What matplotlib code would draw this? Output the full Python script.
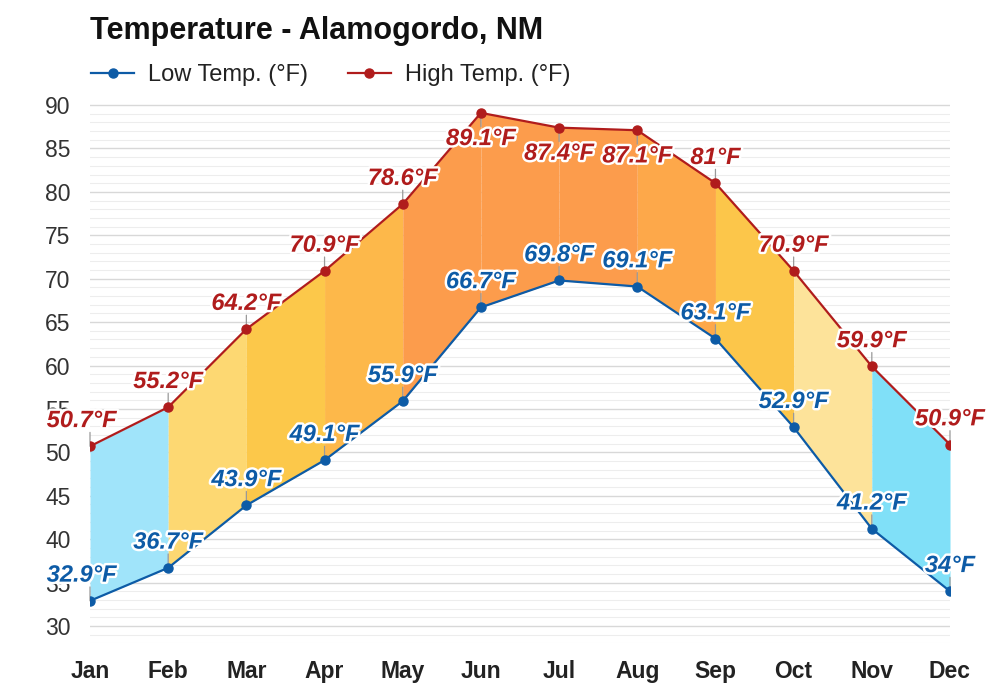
import matplotlib.pyplot as plt
import matplotlib.patheffects as pe
from matplotlib.lines import Line2D
import numpy as np

plt.rcParams['font.family'] = ['Liberation Sans', 'DejaVu Sans']

months = ['Jan', 'Feb', 'Mar', 'Apr', 'May', 'Jun', 'Jul', 'Aug', 'Sep', 'Oct', 'Nov', 'Dec']
low_temp = [32.9, 36.7, 43.9, 49.1, 55.9, 66.7, 69.8, 69.1, 63.1, 52.9, 41.2, 34.0]
high_temp = [50.7, 55.2, 64.2, 70.9, 78.6, 89.1, 87.4, 87.1, 81.0, 70.9, 59.9, 50.9]
low_labels = ['32.9°F', '36.7°F', '43.9°F', '49.1°F', '55.9°F', '66.7°F', '69.8°F', '69.1°F',
              '63.1°F', '52.9°F', '41.2°F', '34°F']
high_labels = ['50.7°F', '55.2°F', '64.2°F', '70.9°F', '78.6°F', '89.1°F', '87.4°F', '87.1°F',
               '81°F', '70.9°F', '59.9°F', '50.9°F']
# fill colour of each month-to-month band
band_colors = ['#a0e4fa', '#fdd872', '#fcc84a', '#fdb84a', '#fc9c4c', '#fc9c4c',
               '#fc9c4c', '#fda84a', '#fcc64a', '#fde39a', '#80e0f8']

low_color = '#0d5ba6'
high_color = '#b01c1c'

fig = plt.figure(figsize=(10, 7), dpi=100)
ax = fig.add_axes([0.09, 0.0809, 0.86, 0.7752])

x = np.arange(len(months))

# coloured bands between the two lines
for i in range(len(months) - 1):
    ax.fill_between(x[i:i + 2], low_temp[i:i + 2], high_temp[i:i + 2],
                    color=band_colors[i], lw=0, zorder=2)

ax.plot(x, low_temp, color=low_color, lw=1.6, marker='o', ms=6.5, zorder=4)
ax.plot(x, high_temp, color=high_color, lw=1.6, marker='o', ms=6.5, zorder=4)

stroke = [pe.withStroke(linewidth=3.5, foreground='white')]


def put_label(xi, yi, txt, color, below=False):
    dy = -18.5 if below else 18.5
    lead = -10 if below else 10
    ax.annotate('', xy=(xi, yi), xytext=(0, lead), textcoords='offset points',
                arrowprops=dict(arrowstyle='-', color='#999999', lw=0.9,
                                shrinkA=0, shrinkB=0), zorder=3)
    dx = 0
    if xi == 0:
        dx = -6
    ax.annotate(txt, xy=(xi, yi), xytext=(dx, dy), textcoords='offset points',
                ha='center', va='center', fontsize=17, fontweight='bold',
                fontstyle='italic', color=color, path_effects=stroke, zorder=6,
                annotation_clip=False)


for i in range(len(months)):
    put_label(x[i], low_temp[i], low_labels[i], low_color)
    put_label(x[i], high_temp[i], high_labels[i], high_color, below=high_temp[i] > 85)

ax.set_xlim(0, 11)
ax.set_ylim(28, 90.5)
ax.set_yticks(np.arange(30, 91, 5))
ax.set_yticks(np.arange(28, 91, 1), minor=True)
ax.set_xticks(x)
ax.set_xticklabels(months, fontsize=16.5, fontweight='bold', color='#222222')
ax.tick_params(axis='x', length=0, pad=12)
ax.tick_params(axis='y', which='both', length=0, labelsize=16.5, labelcolor='#333333', pad=14)
ax.grid(axis='y', which='major', color='#d8d8d8', lw=1, zorder=0)
ax.grid(axis='y', which='minor', color='#ededed', lw=0.8, zorder=0)
for s in ax.spines.values():
    s.set_visible(False)

fig.text(0.09, 1 - 31 / 700, 'Temperature - Alamogordo, NM', fontsize=22,
         fontweight='bold', color='#111111', va='center', ha='left')

handles = [Line2D([], [], color=low_color, lw=1.6, marker='o', ms=6.5, label='Low Temp. (°F)'),
           Line2D([], [], color=high_color, lw=1.6, marker='o', ms=6.5, label='High Temp. (°F)')]
fig.legend(handles=handles, loc='center left', bbox_to_anchor=(0.07, 1 - 75 / 700),
           ncol=2, frameon=False, fontsize=17, handlelength=1.8, handletextpad=0.6,
           columnspacing=1.7, labelcolor='#222222')

fig.savefig('out.png', dpi=100)
